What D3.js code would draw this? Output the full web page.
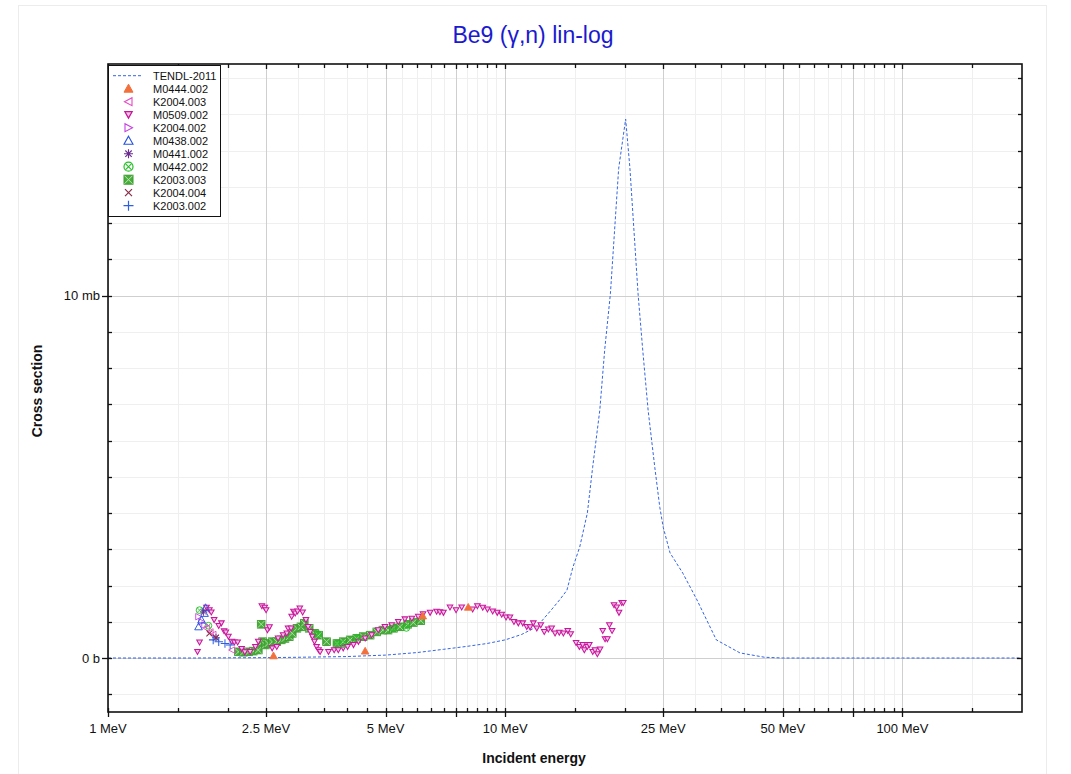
<!DOCTYPE html>
<html>
<head>
<meta charset="utf-8">
<script src="https://cdn.jsdelivr.net/npm/d3@7"></script>
<style>
  body { margin: 0; background: #fff; }
  svg { font-family: "Liberation Sans", Arial, sans-serif; }
</style>
</head>
<body>
<svg id="chart" width="1071" height="774"></svg>
<script>
// ---- Evaluated curve: TENDL-2011 (energy in MeV, cross section in mb) ----
const tendlE  = [1, 1.67, 2, 2.5, 3, 4, 5, 6, 7, 8, 9, 10, 11, 12, 13, 13.7, 14.3, 14.8, 15.4, 16.1, 16.6, 17.3, 17.8, 18.4, 19.3, 20.1, 20.6, 21.6, 22.2, 22.9, 23.8, 24.5, 25, 26, 28, 30.4, 34, 39, 45, 50, 100, 200];
const tendlXS = [0, 0, 0.005, 0.01, 0.02, 0.04, 0.08, 0.15, 0.24, 0.32, 0.40, 0.50, 0.65, 0.86, 1.3, 1.6, 1.87, 2.5, 3.06, 4.0, 5.26, 6.83, 8.5, 10.05, 13.5, 14.87, 13.53, 10.05, 8.48, 6.83, 5.26, 4.16, 3.6, 2.9, 2.34, 1.6, 0.5, 0.14, 0.02, 0, 0, 0];

// ---- Experimental data sets: [energy MeV, cross section mb] ----
const m0444_002 = [[2.61,0.06],[4.44,0.19],[6.20,1.16],[8.07,1.40]];
const k2004_003 = [[1.77,0.82],[1.81,0.72],[1.84,0.65],[2.05,0.22]];
const m0509_002 = [[1.68,0.17],[1.70,0.43],[1.77,1.39],[1.80,1.32],[1.82,1.26],[1.85,1.05],[1.90,0.89],[1.93,0.96],[1.96,0.74],[1.98,0.71],[2.01,0.59],[2.05,0.45],[2.08,0.43],[2.12,0.43],[2.17,0.25],[2.21,0.16],[2.28,0.17],[2.35,0.31],[2.39,0.45],[2.44,1.43],[2.48,1.39],[2.50,1.32],[2.52,0.77],[2.55,0.85],[2.59,0.27],[2.66,0.31],[2.68,0.54],[2.76,0.63],[2.82,0.68],[2.84,0.82],[2.89,0.82],[2.90,1.14],[2.93,1.28],[2.96,1.23],[3.00,1.29],[3.04,1.37],[3.09,1.26],[3.15,1.05],[3.19,0.86],[3.23,0.72],[3.27,0.59],[3.31,0.45],[3.35,0.31],[3.39,0.22],[3.42,0.17],[3.59,0.17],[3.71,0.22],[3.80,0.22],[3.91,0.27],[4.01,0.31],[4.15,0.36],[4.27,0.45],[4.44,0.54],[4.61,0.63],[4.79,0.77],[4.98,0.86],[5.18,0.91],[5.38,1.00],[5.59,1.07],[5.82,1.09],[6.04,1.14],[6.21,1.21],[6.47,1.25],[6.72,1.28],[6.85,1.27],[6.99,1.25],[7.26,1.40],[7.52,1.32],[7.77,1.40],[8.28,1.34],[8.51,1.43],[8.78,1.39],[9.02,1.34],[9.30,1.29],[9.55,1.25],[9.80,1.20],[10.05,1.12],[10.28,1.12],[10.52,1.00],[10.79,0.96],[11.07,0.96],[11.33,0.86],[11.55,0.85],[11.77,0.96],[12.01,0.82],[12.29,0.91],[12.54,0.72],[12.84,0.79],[13.09,0.82],[13.35,0.68],[13.68,0.70],[14.01,0.68],[14.37,0.75],[14.62,0.66],[15.08,0.42],[15.37,0.31],[15.67,0.36],[15.82,0.22],[16.09,0.31],[16.28,0.36],[16.61,0.17],[16.83,0.22],[17.06,0.11],[17.33,0.24],[17.60,0.75],[17.84,0.52],[18.08,0.52],[18.29,0.91],[18.58,0.75],[18.79,1.46],[19.09,1.40],[19.34,1.25],[19.65,1.52],[19.83,1.52]];
const k2004_002 = [[1.69,1.14],[1.72,1.00],[1.75,0.91]];
const m0438_002 = [[1.69,0.86],[1.72,1.05],[1.75,1.23],[1.76,1.39]];
const m0441_002 = [[1.74,1.27],[1.87,0.56]];
const m0442_002 = [[1.70,1.32],[1.79,0.89],[3.38,0.66],[3.77,0.40],[3.90,0.38],[4.23,0.56],[5.23,0.82],[5.64,0.83]];
const k2003_003 = [[2.13,0.17],[2.19,0.16],[2.26,0.17],[2.32,0.19],[2.39,0.22],[2.43,0.93],[2.45,0.45],[2.49,0.36],[2.53,0.40],[2.59,0.45],[2.66,0.45],[2.73,0.50],[2.79,0.54],[2.86,0.59],[2.91,0.68],[2.99,0.82],[3.06,0.86],[3.12,0.96],[3.21,0.82],[3.31,0.68],[3.39,0.63],[3.55,0.45],[3.77,0.40],[3.91,0.45],[4.07,0.50],[4.23,0.54],[4.39,0.59],[4.57,0.63],[4.75,0.72],[4.92,0.77],[5.07,0.77],[5.23,0.82],[5.43,0.86],[5.68,0.93],[5.87,0.98],[6.13,1.03]];
const k2004_004 = [[1.80,0.68],[1.87,0.56]];
const k2003_002 = [[1.84,0.50],[1.90,0.45],[1.97,0.40],[2.03,0.36]];

// ---- Axis ticks ----
const xMajorTicks = [1, 2.5, 5, 7.5, 10, 25, 50, 75, 100];
const xMinorTicks = [1.5, 2, 3, 3.5, 4, 4.5, 5.5, 6, 6.5, 7, 8, 8.5, 9, 9.5, 15, 20, 30, 35, 40, 45, 55, 60, 65, 70, 80, 85, 90, 95, 150];
const xTickValues = [1, 2.5, 5, 10, 25, 50, 100];
const xTickLabels = ["1 MeV", "2.5 MeV", "5 MeV", "10 MeV", "25 MeV", "50 MeV", "100 MeV"];
const yMajorTicks = [0, 10];
const yTickLabels = ["0 b", "10 mb"];
const yMinorTicks = [-1, 1, 2, 3, 4, 5, 6, 7, 8, 9, 11, 12, 13, 14, 15, 16];

const svg = d3.select("#chart");
const m = { left: 108, right: 1022, top: 64, bottom: 712 };

// outer frame
svg.append("rect").attr("x", 18.5).attr("y", 5.5).attr("width", 1028).attr("height", 790)
  .attr("fill", "#fff").attr("stroke", "#ececec");

const x = d3.scaleLog().domain([1, 200]).range([m.left, m.right]);
const y = d3.scaleLinear().domain([-1.49, 16.39]).range([m.bottom, m.top]);

// grid
const grid = svg.append("g");
grid.selectAll(".vmin").data(xMinorTicks).join("line")
  .attr("x1", d => Math.round(x(d)) + 0.5).attr("x2", d => Math.round(x(d)) + 0.5)
  .attr("y1", m.top).attr("y2", m.bottom).attr("stroke", "#efefef");
grid.selectAll(".hmin").data(yMinorTicks).join("line")
  .attr("y1", d => Math.round(y(d)) + 0.5).attr("y2", d => Math.round(y(d)) + 0.5)
  .attr("x1", m.left).attr("x2", m.right).attr("stroke", "#efefef");
grid.selectAll(".vmaj").data(xMajorTicks).join("line")
  .attr("x1", d => Math.round(x(d)) + 0.5).attr("x2", d => Math.round(x(d)) + 0.5)
  .attr("y1", m.top).attr("y2", m.bottom).attr("stroke", "#cfcfcf");
grid.selectAll(".hmaj").data(yMajorTicks).join("line")
  .attr("y1", d => Math.round(y(d)) + 0.5).attr("y2", d => Math.round(y(d)) + 0.5)
  .attr("x1", m.left).attr("x2", m.right).attr("stroke", "#cfcfcf");

// clip region for the data
svg.append("clipPath").attr("id", "plotclip").append("rect")
  .attr("x", m.left).attr("y", m.top).attr("width", m.right - m.left).attr("height", m.bottom - m.top);
const plot = svg.append("g").attr("clip-path", "url(#plotclip)");

// TENDL curve
const tendl = tendlE.map((e, i) => [e, tendlXS[i]]);
plot.append("path").datum(tendl)
  .attr("fill", "none").attr("stroke", "#3565e6").attr("stroke-width", 1)
  .attr("stroke-dasharray", "3,2")
  .attr("d", d3.line().x(d => x(d[0])).y(d => y(d[1])));

// marker shapes (drawn around the origin of group g)
const markers = {
  triUpFilled: (g, c) => g.append("path").attr("d", "M0,-4.5L4.5,3.5L-4.5,3.5Z").attr("fill", c).attr("stroke", c),
  triLeft: (g, c) => g.append("path").attr("d", "M-4,0L3.5,-4L3.5,4Z").attr("fill", "none").attr("stroke", c).attr("stroke-width", 1.1),
  triDown: (g, c) => g.append("path").attr("d", "M-3.6,-3L3.6,-3L0,3.4Z").attr("fill", "#f4c3e6").attr("stroke", c).attr("stroke-width", 1.3),
  triRight: (g, c) => g.append("path").attr("d", "M4,0L-3.5,-4L-3.5,4Z").attr("fill", "none").attr("stroke", c).attr("stroke-width", 1.1),
  triUp: (g, c) => g.append("path").attr("d", "M0,-4.5L4.5,3.5L-4.5,3.5Z").attr("fill", "none").attr("stroke", c).attr("stroke-width", 1.1),
  asterisk: (g, c) => g.append("path").attr("d", "M-4.5,0H4.5M0,-4.5V4.5M-3.2,-3.2L3.2,3.2M-3.2,3.2L3.2,-3.2").attr("stroke", c).attr("stroke-width", 1.1),
  circleX: (g, c) => { g.append("circle").attr("r", 4.5).attr("fill", "none").attr("stroke", c).attr("stroke-width", 1.2);
    g.append("path").attr("d", "M-3.1,-3.1L3.1,3.1M-3.1,3.1L3.1,-3.1").attr("stroke", c).attr("stroke-width", 1.1); },
  squareX: (g, c) => { g.append("rect").attr("x", -4.5).attr("y", -4.5).attr("width", 9).attr("height", 9).attr("fill", "#49ad3c").attr("stroke", c).attr("stroke-width", 1);
    g.append("path").attr("d", "M-4,-4L4,4M-4,4L4,-4").attr("stroke", "#b9e5b0").attr("stroke-width", 1); },
  cross: (g, c) => g.append("path").attr("d", "M-3.5,-3.5L3.5,3.5M-3.5,3.5L3.5,-3.5").attr("stroke", c).attr("stroke-width", 1.2),
  plus: (g, c) => g.append("path").attr("d", "M-5,0H5M0,-5V5").attr("stroke", c).attr("stroke-width", 1.2)
};

const series = [
  { name: "M0444.002", data: m0444_002, shape: "triUpFilled", color: "#f2703c", k: 0.85 },
  { name: "K2004.003", data: k2004_003, shape: "triLeft", color: "#e548c4", k: 0.8 },
  { name: "M0509.002", data: m0509_002, shape: "triDown", color: "#c8169c", k: 0.78 },
  { name: "K2004.002", data: k2004_002, shape: "triRight", color: "#c43fe0", k: 0.8 },
  { name: "M0438.002", data: m0438_002, shape: "triUp", color: "#2451e0", k: 0.85 },
  { name: "M0441.002", data: m0441_002, shape: "asterisk", color: "#6b2d8f", k: 0.85 },
  { name: "M0442.002", data: m0442_002, shape: "circleX", color: "#22c025", k: 0.75 },
  { name: "K2003.003", data: k2003_003, shape: "squareX", color: "#3d9a30", k: 0.85 },
  { name: "K2004.004", data: k2004_004, shape: "cross", color: "#8a2a45", k: 0.85 },
  { name: "K2003.002", data: k2003_002, shape: "plus", color: "#2f5fe0", k: 0.85 }
];

// paint order: green squares underneath, then the rest
const drawOrder = ["K2003.003", "M0509.002", "M0442.002", "K2004.003", "K2004.002", "M0438.002", "M0441.002", "K2004.004", "K2003.002", "M0444.002"];
drawOrder.forEach(name => {
  const s = series.find(v => v.name === name);
  s.data.forEach(d => {
    const g = plot.append("g").attr("transform", `translate(${x(d[0])},${y(d[1])}) scale(${s.k})`);
    markers[s.shape](g, s.color);
  });
});

// plot frame
svg.append("rect").attr("x", m.left).attr("y", m.top).attr("width", m.right - m.left).attr("height", m.bottom - m.top)
  .attr("fill", "none").attr("stroke", "#111").attr("stroke-width", 1.6);

// ticks
const tk = svg.append("g").attr("stroke", "#111").attr("stroke-width", 1.3);
xMinorTicks.forEach(v => {
  const px = Math.round(x(v)) + 0.5;
  tk.append("line").attr("x1", px).attr("x2", px).attr("y1", m.bottom).attr("y2", m.bottom - 4);
  tk.append("line").attr("x1", px).attr("x2", px).attr("y1", m.top).attr("y2", m.top + 4);
});
xMajorTicks.forEach(v => {
  const px = Math.round(x(v)) + 0.5;
  tk.append("line").attr("x1", px).attr("x2", px).attr("y1", m.bottom - 4).attr("y2", m.bottom + 5);
  tk.append("line").attr("x1", px).attr("x2", px).attr("y1", m.top).attr("y2", m.top + 5);
});
yMinorTicks.forEach(v => {
  const py = Math.round(y(v)) + 0.5;
  tk.append("line").attr("y1", py).attr("y2", py).attr("x1", m.left).attr("x2", m.left + 4);
  tk.append("line").attr("y1", py).attr("y2", py).attr("x1", m.right).attr("x2", m.right - 4);
});
yMajorTicks.forEach(v => {
  const py = Math.round(y(v)) + 0.5;
  tk.append("line").attr("y1", py).attr("y2", py).attr("x1", m.left - 6).attr("x2", m.left + 4);
  tk.append("line").attr("y1", py).attr("y2", py).attr("x1", m.right).attr("x2", m.right - 5);
});

// tick labels
svg.append("g").selectAll("text").data(xTickValues).join("text")
  .attr("x", d => x(d)).attr("y", 733).attr("text-anchor", "middle")
  .attr("font-size", 13).attr("fill", "#111")
  .text((d, i) => xTickLabels[i]);
svg.append("g").selectAll("text").data(yMajorTicks).join("text")
  .attr("x", m.left - 8).attr("y", d => y(d)).attr("dy", "0.35em").attr("text-anchor", "end")
  .attr("font-size", 13).attr("fill", "#111")
  .text((d, i) => yTickLabels[i]);

// titles
svg.append("text").attr("x", 533).attr("y", 43).attr("text-anchor", "middle")
  .attr("font-size", 23).attr("fill", "#1a1ad0").text("Be9 (γ,n) lin-log");
svg.append("text").attr("x", 534).attr("y", 763).attr("text-anchor", "middle")
  .attr("font-size", 14).attr("font-weight", "bold").attr("fill", "#111").text("Incident energy");
svg.append("text").attr("transform", "translate(42,391) rotate(-90)").attr("text-anchor", "middle")
  .attr("font-size", 14).attr("font-weight", "bold").attr("fill", "#111").text("Cross section");

// legend
const lg = svg.append("g");
lg.append("rect").attr("x", 108.5).attr("y", 65.5).attr("width", 112).attr("height", 151)
  .attr("fill", "#fff").attr("stroke", "#111").attr("stroke-width", 1);
const rowY = i => 75.7 + i * 13;
lg.append("line").attr("x1", 113).attr("x2", 142).attr("y1", rowY(0)).attr("y2", rowY(0))
  .attr("stroke", "#3565e6").attr("stroke-dasharray", "3,2");
lg.append("text").attr("x", 153).attr("y", rowY(0)).attr("dy", "0.35em").attr("font-size", 11).attr("fill", "#111").text("TENDL-2011");
series.forEach((s, i) => {
  const g = lg.append("g").attr("transform", `translate(128.5,${rowY(i + 1)})`);
  markers[s.shape](g, s.color);
  lg.append("text").attr("x", 153).attr("y", rowY(i + 1)).attr("dy", "0.35em")
    .attr("font-size", 11).attr("fill", "#111").text(s.name);
});
</script>
</body>
</html>
